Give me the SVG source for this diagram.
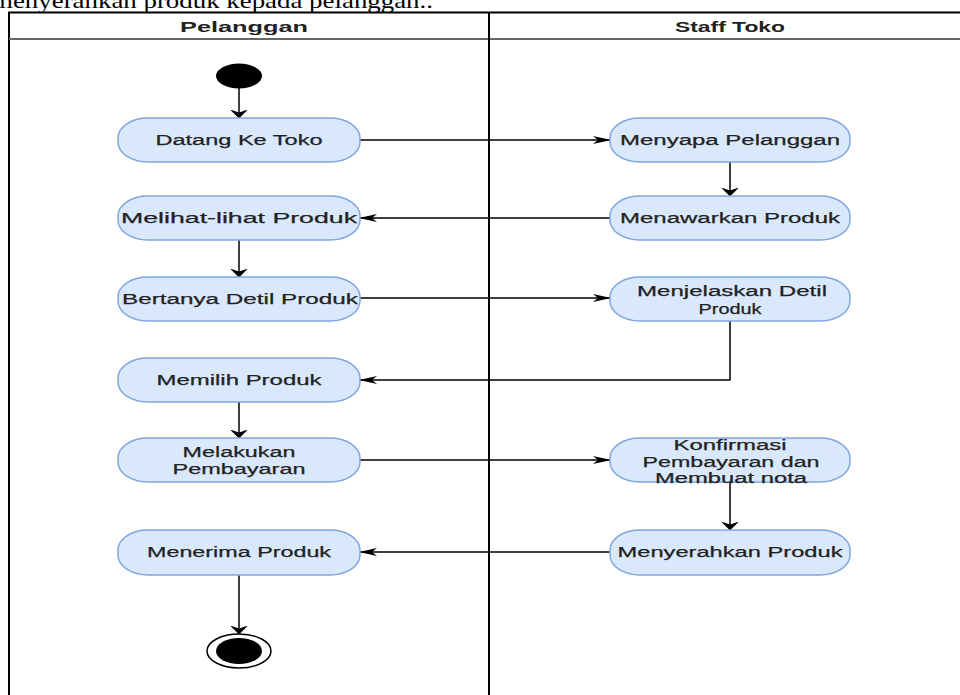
<svg xmlns="http://www.w3.org/2000/svg" width="960" height="695" viewBox="0 0 960 695">
<defs>
<style>
.node rect{fill:#dae8fc;stroke:#7ea6e0;stroke-width:1.5}
.node text{font-family:"Liberation Sans",Arial,sans-serif;font-size:15.5px;fill:#222;text-anchor:middle;stroke:#222;stroke-width:0.25}
.hdr{font-family:"Liberation Sans",Arial,sans-serif;font-size:14px;font-weight:bold;fill:#222;text-anchor:middle}
.eh{fill:none;stroke:#000;stroke-width:1.5;marker-end:url(#ah)}
.ev{fill:none;stroke:#000;stroke-width:1.5;marker-end:url(#av)}
</style>
<marker id="ah" viewBox="0 0 18 8" refX="17" refY="4" markerWidth="18" markerHeight="8" markerUnits="userSpaceOnUse" orient="auto">
<path d="M0,0 L18,4 L0,8 L5,4 Z" fill="#000"/>
</marker>
<marker id="av" viewBox="0 0 9 18" refX="8.5" refY="9" markerWidth="9" markerHeight="18" markerUnits="userSpaceOnUse" orient="auto">
<path d="M0,0 L9,9 L0,18 L3,9 Z" fill="#000"/>
</marker>
</defs>
<rect width="960" height="695" fill="#fff"/>
<text x="-8" y="8" font-family="'Liberation Serif','Times New Roman',serif" font-size="21" fill="#000" textLength="441" lengthAdjust="spacingAndGlyphs">menyerahkan produk kepada pelanggan..</text>
<g id="pool">
<path d="M9,695 V12.5 H960" fill="none" stroke="#000" stroke-width="2"/>
<line x1="9" y1="39" x2="960" y2="39" stroke="#666" stroke-width="2"/>
<line x1="489" y1="12.5" x2="489" y2="695" stroke="#000" stroke-width="2"/>
<text class="hdr" x="244" y="32" textLength="128" lengthAdjust="spacingAndGlyphs">Pelanggan</text>
<text class="hdr" x="730" y="32" textLength="110" lengthAdjust="spacingAndGlyphs">Staff Toko</text>
</g>
<g id="connectors">
<path class="ev" d="M239,88 V118"/>
<path class="eh" d="M360,140 H610"/>
<path class="ev" d="M730,162 V196"/>
<path class="eh" d="M610,218 H360"/>
<path class="ev" d="M239,240 V277"/>
<path class="eh" d="M360,298 H610"/>
<path class="eh" d="M730,321 V380 H360"/>
<path class="ev" d="M239,402 V438"/>
<path class="eh" d="M360,460 H610"/>
<path class="ev" d="M730,482 V530"/>
<path class="eh" d="M610,552 H360"/>
<path class="ev" d="M239,575 V634"/>
</g>
<g id="start"><ellipse cx="239" cy="76" rx="23" ry="12.5" fill="#000"/></g>
<g id="datang" class="node"><rect x="118" y="118" width="242" height="44" rx="30" ry="20"/><text x="239" y="145" textLength="167" lengthAdjust="spacingAndGlyphs">Datang Ke Toko</text></g>
<g id="melihat" class="node"><rect x="118" y="196" width="242" height="44" rx="30" ry="20"/><text x="239" y="223" textLength="236" lengthAdjust="spacingAndGlyphs">Melihat-lihat Produk</text></g>
<g id="bertanya" class="node"><rect x="118" y="277" width="242" height="44" rx="30" ry="20"/><text x="240" y="304" textLength="236" lengthAdjust="spacingAndGlyphs">Bertanya Detil Produk</text></g>
<g id="memilih" class="node"><rect x="118" y="358" width="242" height="44" rx="30" ry="20"/><text x="239" y="385" textLength="165" lengthAdjust="spacingAndGlyphs">Memilih Produk</text></g>
<g id="melakukan" class="node"><rect x="118" y="438" width="242" height="44" rx="30" ry="20"/><text x="239" y="457" textLength="113" lengthAdjust="spacingAndGlyphs">Melakukan</text><text x="239" y="474" textLength="133" lengthAdjust="spacingAndGlyphs">Pembayaran</text></g>
<g id="menerima" class="node"><rect x="118" y="530" width="242" height="45" rx="30" ry="20"/><text x="239" y="557" textLength="184" lengthAdjust="spacingAndGlyphs">Menerima Produk</text></g>
<g id="end"><ellipse cx="239" cy="651" rx="32" ry="17" fill="#fff" stroke="#000" stroke-width="1.5"/><ellipse cx="239" cy="651" rx="23" ry="13" fill="#000"/></g>
<g id="menyapa" class="node"><rect x="610" y="118" width="240" height="44" rx="30" ry="20"/><text x="730" y="145" textLength="220" lengthAdjust="spacingAndGlyphs">Menyapa Pelanggan</text></g>
<g id="menawarkan" class="node"><rect x="610" y="196" width="240" height="44" rx="30" ry="20"/><text x="730" y="223" textLength="220" lengthAdjust="spacingAndGlyphs">Menawarkan Produk</text></g>
<g id="menjelaskan" class="node"><rect x="610" y="277" width="240" height="44" rx="30" ry="20"/><text x="732" y="296" textLength="190" lengthAdjust="spacingAndGlyphs">Menjelaskan Detil</text><text x="730" y="314" textLength="63" lengthAdjust="spacingAndGlyphs">Produk</text></g>
<g id="konfirmasi" class="node"><rect x="610" y="438" width="240" height="44" rx="30" ry="20"/><text x="730" y="450" textLength="113" lengthAdjust="spacingAndGlyphs">Konfirmasi</text><text x="731" y="467" textLength="177" lengthAdjust="spacingAndGlyphs">Pembayaran dan</text><text x="731" y="483" textLength="152" lengthAdjust="spacingAndGlyphs">Membuat nota</text></g>
<g id="menyerahkan" class="node"><rect x="610" y="530" width="240" height="45" rx="30" ry="20"/><text x="730" y="557" textLength="225" lengthAdjust="spacingAndGlyphs">Menyerahkan Produk</text></g>
</svg>
